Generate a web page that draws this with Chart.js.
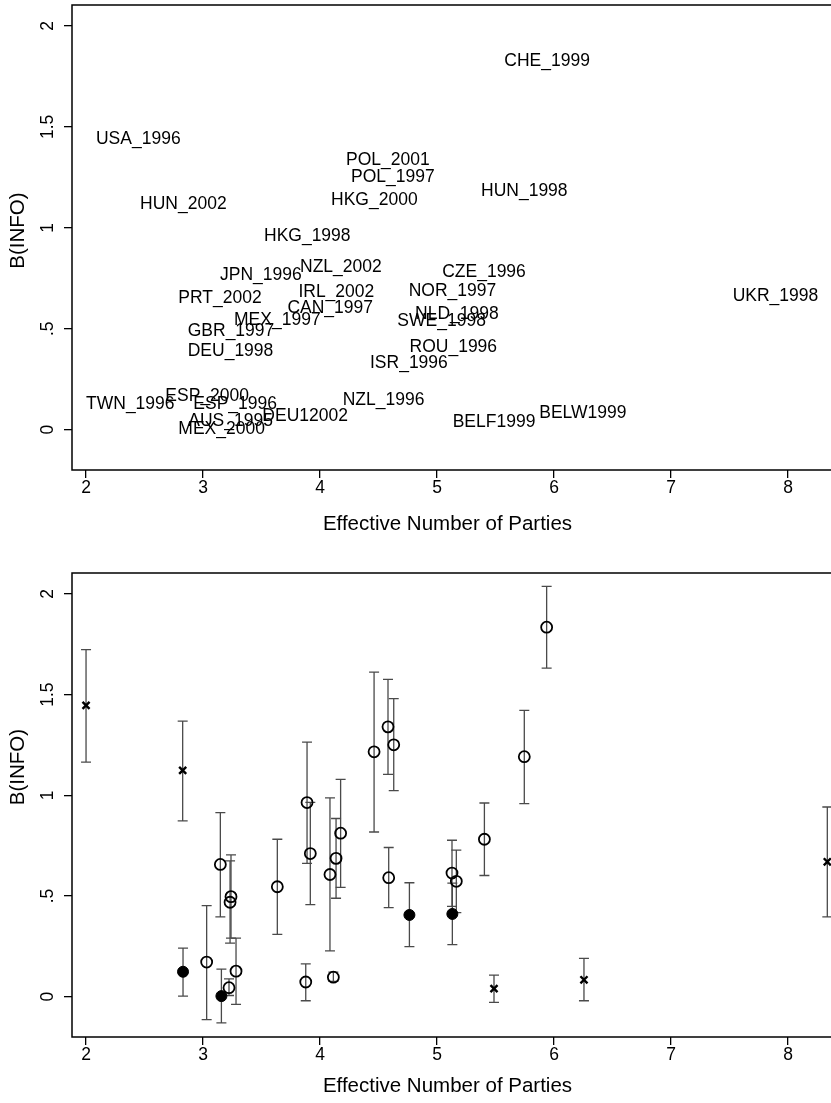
<!DOCTYPE html>
<html>
<head>
<meta charset="utf-8">
<script src="https://cdn.jsdelivr.net/npm/chart.js@4.4.1/dist/chart.umd.min.js"></script>
<style>
  html, body { margin: 0; padding: 0; background: #fff; overflow: hidden; }
  .panel { position: relative; width: 870px; }
</style>
</head>
<body>
<div class="panel" style="height:540px"><canvas id="topChart"></canvas></div>
<div class="panel" style="height:563px"><canvas id="bottomChart"></canvas></div>
<script>
// axis ticks
const xTicks = [2, 3, 4, 5, 6, 7, 8];
const yTicks = [0, 0.5, 1, 1.5, 2];

// top panel: country labels
const labelNames = ['USA_1996', 'HUN_2002', 'HKG_1998', 'JPN_1996', 'PRT_2002', 'NZL_2002', 'IRL_2002',
  'CAN_1997', 'MEX_1997', 'GBR_1997', 'DEU_1998', 'ISR_1996', 'ROU_1996', 'CZE_1996', 'NOR_1997',
  'NLD_1998', 'SWE_1998', 'NZL_1996', 'ESP_2000', 'TWN_1996', 'ESP_1996', 'AUS_1995', 'MEX_2000',
  'DEU12002', 'BELF1999', 'BELW1999', 'CHE_1999', 'HUN_1998', 'UKR_1998', 'POL_2001', 'POL_1997', 'HKG_2000'];
const labelX = [2.085, 2.462, 3.521, 3.145, 2.789, 3.829, 3.815,
  3.721, 3.265, 2.869, 2.869, 4.427, 4.765, 5.044, 4.758,
  4.812, 4.661, 4.194, 2.678, 2.000, 2.917, 2.874, 2.789,
  3.507, 5.134, 5.874, 5.575, 5.376, 7.527, 4.222, 4.265, 4.094];
const labelY = [1.441, 1.118, 0.959, 0.763, 0.651, 0.807, 0.683,
  0.603, 0.542, 0.489, 0.390, 0.327, 0.408, 0.779, 0.688,
  0.573, 0.536, 0.145, 0.165, 0.124, 0.124, 0.043, 0.000,
  0.066, 0.038, 0.081, 1.828, 1.184, 0.663, 1.336, 1.251, 1.137];

// bottom panel: estimates with confidence intervals
const openX  = [3.148, 3.239, 3.231, 3.031, 3.222, 3.282, 3.635, 3.889, 3.917, 3.878, 4.114, 4.085,
  4.137, 4.176, 4.587, 4.462, 4.581, 4.630, 5.937, 5.746, 5.405, 5.128, 5.165];
const openY  = [0.657, 0.497, 0.469, 0.172, 0.045, 0.127, 0.546, 0.964, 0.711, 0.073, 0.097, 0.607,
  0.687, 0.812, 0.591, 1.216, 1.340, 1.251, 1.835, 1.192, 0.782, 0.614, 0.573];
const openLo = [0.396, 0.291, 0.266, -0.114, 0.006, -0.038, 0.310, 0.662, 0.457, -0.020, 0.076, 0.228,
  0.489, 0.543, 0.442, 0.818, 1.104, 1.023, 1.632, 0.959, 0.602, 0.449, 0.418];
const openHi = [0.914, 0.704, 0.675, 0.452, 0.089, 0.291, 0.782, 1.264, 0.965, 0.163, 0.122, 0.987,
  0.885, 1.079, 0.741, 1.612, 1.576, 1.480, 2.038, 1.422, 0.962, 0.777, 0.728];

const solidX  = [2.829, 3.157, 4.764, 5.131];
const solidY  = [0.124, 0.003, 0.406, 0.411];
const solidLo = [0.003, -0.130, 0.249, 0.259];
const solidHi = [0.241, 0.137, 0.566, 0.564];

const crossX  = [2.000, 2.826, 5.487, 6.256, 8.336];
const crossY  = [1.447, 1.124, 0.040, 0.084, 0.670];
const crossLo = [1.165, 0.873, -0.028, -0.020, 0.396];
const crossHi = [1.724, 1.368, 0.107, 0.190, 0.942];

const FONT = '"Liberation Sans", Arial, Helvetica, sans-serif';

function pts(xs, ys, lo, hi, names) {
  return xs.map((x, i) => ({ x: x, y: ys[i], lo: lo ? lo[i] : null, hi: hi ? hi[i] : null, name: names ? names[i] : null }));
}

function fmtY(v) {
  if (v === 0) return '0';
  return String(v).replace(/^0\./, '.');
}

// box, rotated y tick labels, axis titles, error bars, text labels
const stataPlugin = {
  id: 'stata',
  beforeDatasetsDraw(chart) {
    const ctx = chart.ctx;
    const xs = chart.scales.x, ys = chart.scales.y;
    ctx.save();
    ctx.strokeStyle = '#4a4a4a';
    ctx.lineWidth = 1.3;
    chart.data.datasets.forEach(ds => {
      ds.data.forEach(p => {
        if (p.lo === null) return;
        const px = xs.getPixelForValue(p.x);
        const pl = ys.getPixelForValue(p.lo), ph = ys.getPixelForValue(p.hi);
        ctx.beginPath();
        ctx.moveTo(px, pl); ctx.lineTo(px, ph);
        ctx.moveTo(px - 5, pl); ctx.lineTo(px + 5, pl);
        ctx.moveTo(px - 5, ph); ctx.lineTo(px + 5, ph);
        ctx.stroke();
      });
    });
    ctx.restore();
  },
  afterDraw(chart) {
    const ctx = chart.ctx;
    const a = chart.chartArea;
    const xs = chart.scales.x, ys = chart.scales.y;
    const opts = chart.options.plugins.stata;
    ctx.save();
    // plot region box
    ctx.strokeStyle = '#000';
    ctx.lineWidth = 1.5;
    ctx.strokeRect(a.left, a.top, a.right - a.left, a.bottom - a.top);

    // y tick labels, rotated like Stata
    ctx.fillStyle = '#000';
    ctx.font = '17.5px ' + FONT;
    ctx.textAlign = 'center';
    ctx.textBaseline = 'alphabetic';
    ys.ticks.forEach(t => {
      ctx.save();
      ctx.translate(a.left - 19, ys.getPixelForValue(t.value));
      ctx.rotate(-Math.PI / 2);
      ctx.fillText(fmtY(t.value), 0, 0);
      ctx.restore();
    });

    // y axis title
    ctx.font = '20.5px ' + FONT;
    ctx.save();
    ctx.translate(24, (a.top + a.bottom) / 2 + opts.yTitleShift);
    ctx.rotate(-Math.PI / 2);
    ctx.fillText('B(INFO)', 0, 0);
    ctx.restore();

    // x axis title (centred on the visible part of the plot)
    ctx.textBaseline = 'middle';
    ctx.fillText('Effective Number of Parties', (a.left + 823) / 2, a.bottom + opts.xTitleGap);

    // text labels (top panel)
    ctx.font = '17.5px ' + FONT;
    ctx.textAlign = 'left';
    ctx.textBaseline = 'middle';
    chart.data.datasets.forEach(ds => {
      ds.data.forEach(p => {
        if (!p.name) return;
        ctx.fillText(p.name, xs.getPixelForValue(p.x), ys.getPixelForValue(p.y));
      });
    });
    ctx.restore();
  }
};

function makeChart(id, datasets, padTop, xScaleHeight, titleOpts) {
  return new Chart(document.getElementById(id), {
    type: 'scatter',
    data: { datasets: datasets },
    options: {
      responsive: true,
      maintainAspectRatio: false,
      animation: false,
      layout: { padding: { top: padTop, left: 0, right: 23.5, bottom: 0 } },
      plugins: { legend: { display: false }, tooltip: { enabled: false }, stata: titleOpts },
      scales: {
        x: {
          type: 'linear',
          min: 1.88,
          max: 8.5,
          afterBuildTicks: s => { s.ticks = xTicks.map(v => ({ value: v })); },
          afterFit: s => { s.height = xScaleHeight; },
          grid: { drawOnChartArea: false, drawTicks: true, tickLength: 8, color: '#000', lineWidth: 1.3 },
          border: { display: false },
          ticks: { color: '#000', padding: 0, maxRotation: 0, font: { family: FONT, size: 17.5 } }
        },
        y: {
          type: 'linear',
          min: -0.2,
          max: 2.104,
          afterBuildTicks: s => { s.ticks = yTicks.map(v => ({ value: v })); },
          afterFit: s => { s.width = 72; },
          grid: { drawOnChartArea: false, drawTicks: true, tickLength: 8, color: '#000', lineWidth: 1.3 },
          border: { display: false },
          ticks: { display: false }
        }
      }
    },
    plugins: [stataPlugin]
  });
}

makeChart('topChart', [{
  data: pts(labelX, labelY, null, null, labelNames),
  pointRadius: 0,
  pointHoverRadius: 0
}], 5, 70, { yTitleShift: -7, xTitleGap: 54 });

makeChart('bottomChart', [
  {
    data: pts(openX, openY, openLo, openHi),
    pointStyle: 'circle', pointRadius: 5.5, pointBorderWidth: 1.8,
    pointBorderColor: '#000', pointBackgroundColor: 'rgba(0,0,0,0)'
  },
  {
    data: pts(solidX, solidY, solidLo, solidHi),
    pointStyle: 'circle', pointRadius: 5.5, pointBorderWidth: 1,
    pointBorderColor: '#000', pointBackgroundColor: '#000'
  },
  {
    data: pts(crossX, crossY, crossLo, crossHi),
    pointStyle: 'crossRot', pointRadius: 5, pointBorderWidth: 2.4,
    pointBorderColor: '#000'
  }
], 33, 66, { yTitleShift: -38, xTitleGap: 49 });
</script>
</body>
</html>
